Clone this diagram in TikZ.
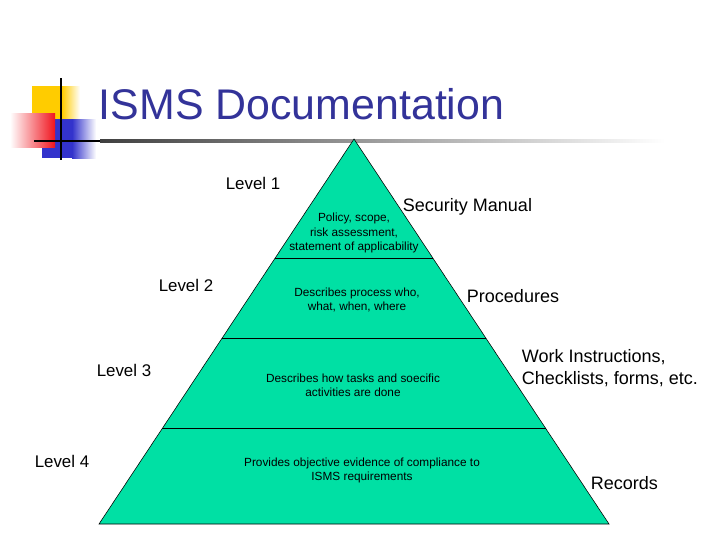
\documentclass[tikz,border=0pt]{standalone}
\usepackage{fontspec}
\setmainfont{Liberation Sans}
\usepackage{tikz}
\usetikzlibrary{calc}

\definecolor{tiergreen}{RGB}{0,224,164}
\definecolor{titleblue}{RGB}{51,51,153}
\definecolor{logoyellow}{RGB}{255,204,0}
\definecolor{logoblue}{RGB}{51,51,204}
\definecolor{logored}{RGB}{240,20,30}

\tikzset{
  lvl/.style={font=\fontsize{12}{14}\selectfont},
  tierlabel/.style={anchor=west,align=left,font=\fontsize{12.8}{14.2}\selectfont},
  tiertext/.style={align=center,font=\fontsize{8.4}{10}\selectfont}
}

\begin{document}
\begin{tikzpicture}[x=0.025cm,y=-0.025cm]
 \useasboundingbox (0,0) rectangle (720,540);

% title decoration
 \fill[logoyellow] (32,86) rectangle (62,119);
 \shade[left color=logoyellow,right color=white] (62,86) rectangle (80,119);
 \fill[logoblue] (42,119) rectangle (72,158);
 \shade[left color=logoblue,right color=white] (72,119) rectangle (96,158);
 \shade[left color=white,right color=logored] (10,113) rectangle (55,147);
 \fill[black] (34,139.8) rectangle (100,142.4);
 \shade[left color=black!75,right color=white] (100,139.8) rectangle (665,142.4);
 \draw[line width=1.8pt] (61,78) -- (61,160);
 \node[anchor=west,text=titleblue,font=\fontsize{30.5}{34}\selectfont] (title) at (94,104) {ISMS Documentation};

% pyramid corners
 \coordinate (apex) at (354,139);
 \coordinate (bl) at (99,524);
 \coordinate (br) at (609,524);
 \fill[tiergreen] (apex) -- (bl) -- (br) -- cycle;
 \draw (apex) -- (bl) -- (br) -- cycle;

% tier borders
 \coordinate (l1) at ($(apex)!0.309!(bl)$);
 \coordinate (r1) at ($(apex)!0.309!(br)$);
 \coordinate (l2) at ($(apex)!0.517!(bl)$);
 \coordinate (r2) at ($(apex)!0.517!(br)$);
 \coordinate (l3) at ($(apex)!0.751!(bl)$);
 \coordinate (r3) at ($(apex)!0.751!(br)$);
 \draw (l1) -- (r1);
 \draw (l2) -- (r2);
 \draw (l3) -- (r3);

% level 1
 \node[lvl] (lvlone) at (253,183) {Level 1};
 \node[tierlabel] (secman) at (398,207) {Security Manual};
 \node[tiertext] (policy) at (354,233) {Policy, scope,\\risk assessment,\\statement of applicability};

% level 2
 \node[lvl] (lvltwo) at (186,285) {Level 2};
 \node[tiertext] (process) at (357,300) {Describes process who,\\what, when, where};
 \node[tierlabel] (proc) at (462,296) {Procedures};

% level 3
 \node[lvl] (lvlthree) at (124,370) {Level 3};
 \node[tiertext] (tasks) at (353,385) {Describes how tasks and soecific\\activities are done};
 \node[tierlabel,font=\fontsize{12.8}{14.2}\selectfont,align=left] (workinst) at (517,368) {Work Instructions,\\[0.15em]Checklists, forms, etc.};

% level 4
 \node[lvl] (lvlfour) at (62,461) {Level 4};
 \node[tiertext] (evidence) at (362,470) {Provides objective evidence of compliance to\\ISMS requirements};
 \node[tierlabel] (records) at (586,483) {Records};

\end{tikzpicture}
\end{document}
